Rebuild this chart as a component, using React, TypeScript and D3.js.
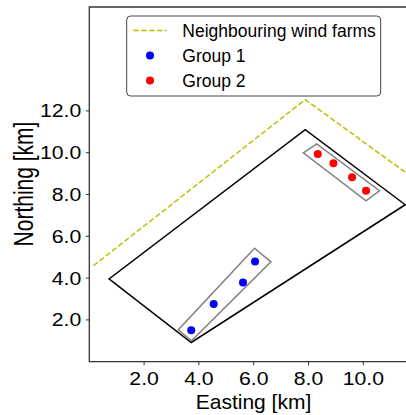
import * as d3 from 'd3'

type Pt = [number, number]

// values (km)
const neighbourLine: Pt[] = [[0.15, 4.59], [7.88, 12.54], [12.2, 8.43]]
const farmOutline: Pt[] = [[0.72, 3.96], [3.72, 0.92], [11.53, 7.51], [7.88, 11.1]]
const group1: Pt[] = [[3.72, 1.5], [4.54, 2.76], [5.61, 3.79], [6.05, 4.8]]
const group2: Pt[] = [[8.34, 9.94], [8.91, 9.49], [9.59, 8.82], [10.1, 8.18]]
const group1Box: Pt[] = [[3.25, 1.53], [3.73, 1.0], [6.63, 4.78], [6.03, 5.43]]
const group2Box: Pt[] = [[7.81, 9.99], [8.3, 10.42], [10.59, 8.18], [10.1, 7.7]]
const xTicks = [2, 4, 6, 8, 10]
const yTicks = [2, 4, 6, 8, 10, 12]
const legendItems = [
  { label: 'Neighbouring wind farms', kind: 'line', color: '#bfbf00' },
  { label: 'Group 1', kind: 'dot', color: '#0000ff' },
  { label: 'Group 2', kind: 'dot', color: '#ff0000' },
]

const width = 406
const height = 415
const left = 89.3
const bottom = 361.7
const top = 7

const x = d3.scaleLinear().domain([0, 12]).range([left, left + 12 * 27.4])
const y = d3.scaleLinear().domain([0, 17]).range([bottom, bottom - 17 * 20.9])

const line = d3
  .line<Pt>()
  .x((d) => x(d[0]))
  .y((d) => y(d[1]))

const closed = (pts: Pt[]) => line(pts)! + 'Z'

const font = '"Liberation Sans", Arial, sans-serif'

export default function App() {
  const plotRight = x(12)
  return (
    <svg
      width={width}
      height={height}
      style={{ position: 'absolute', left: 0, top: 0, background: '#fff' }}
      fontFamily={font}
    >
      <defs>
        <clipPath id="plot">
          <rect x={left} y={top} width={plotRight - left} height={bottom - top} />
        </clipPath>
      </defs>

      <g clipPath="url(#plot)">
        <path d={line(neighbourLine)!} fill="none" stroke="#bfbf00" strokeWidth={1.5} strokeDasharray="5.5,2.4" />
        <path d={closed(farmOutline)} fill="none" stroke="#000" strokeWidth={1.5} strokeLinejoin="miter" />
        <path d={closed(group1Box)} fill="none" stroke="#808080" strokeWidth={1.5} />
        <path d={closed(group2Box)} fill="none" stroke="#808080" strokeWidth={1.5} />
        {group1.map((d, i) => (
          <circle key={'b' + i} cx={x(d[0])} cy={y(d[1])} r={4} fill="#0000ff" />
        ))}
        {group2.map((d, i) => (
          <circle key={'r' + i} cx={x(d[0])} cy={y(d[1])} r={4} fill="#ff0000" />
        ))}
      </g>

      {/* spines */}
      <path
        d={`M${plotRight},${top}H${left}V${bottom}H${plotRight}`}
        fill="none"
        stroke="#333"
        strokeWidth={1.3}
      />

      {/* x axis */}
      {xTicks.map((t) => (
        <g key={'x' + t}>
          <line x1={x(t)} x2={x(t)} y1={bottom} y2={bottom + 3.5} stroke="#333" strokeWidth={1} />
          <text
            transform={`translate(${x(t)},${bottom + 23.5}) scale(1.18,1)`}
            textAnchor="middle"
            fontSize={18}
            fill="#000"
          >
            {t.toFixed(1)}
          </text>
        </g>
      ))}
      <text x={253.5} y={409} textAnchor="middle" fontSize={21} fill="#000">
        Easting [km]
      </text>

      {/* y axis */}
      {yTicks.map((t) => (
        <g key={'y' + t}>
          <line x1={left - 3.5} x2={left} y1={y(t)} y2={y(t)} stroke="#333" strokeWidth={1} />
          <text
            transform={`translate(${left - 8},${y(t) + 6.4}) scale(1.18,1)`}
            textAnchor="end"
            fontSize={18}
            fill="#000"
          >
            {t.toFixed(1)}
          </text>
        </g>
      ))}
      <text
        transform={`translate(33,184) scale(1.3,1) rotate(-90)`}
        textAnchor="middle"
        fontSize={21}
        fill="#000"
      >
        Northing [km]
      </text>

      {/* legend */}
      <rect x={126.7} y={16} width={254} height={80} rx={4} fill="#fff" stroke="#444" strokeWidth={1} />
      {legendItems.map((item, i) => {
        const cy = 30.5 + i * 25
        return (
          <g key={item.label}>
            {item.kind === 'line' ? (
              <line x1={133.3} x2={166.7} y1={cy} y2={cy} stroke={item.color} strokeWidth={1.5} strokeDasharray="5.5,2.4" />
            ) : (
              <circle cx={150} cy={cy} r={4} fill={item.color} />
            )}
            <text x={182.3} y={cy + 6.3} fontSize={17.5} fill="#000">
              {item.label}
            </text>
          </g>
        )
      })}
    </svg>
  )
}
